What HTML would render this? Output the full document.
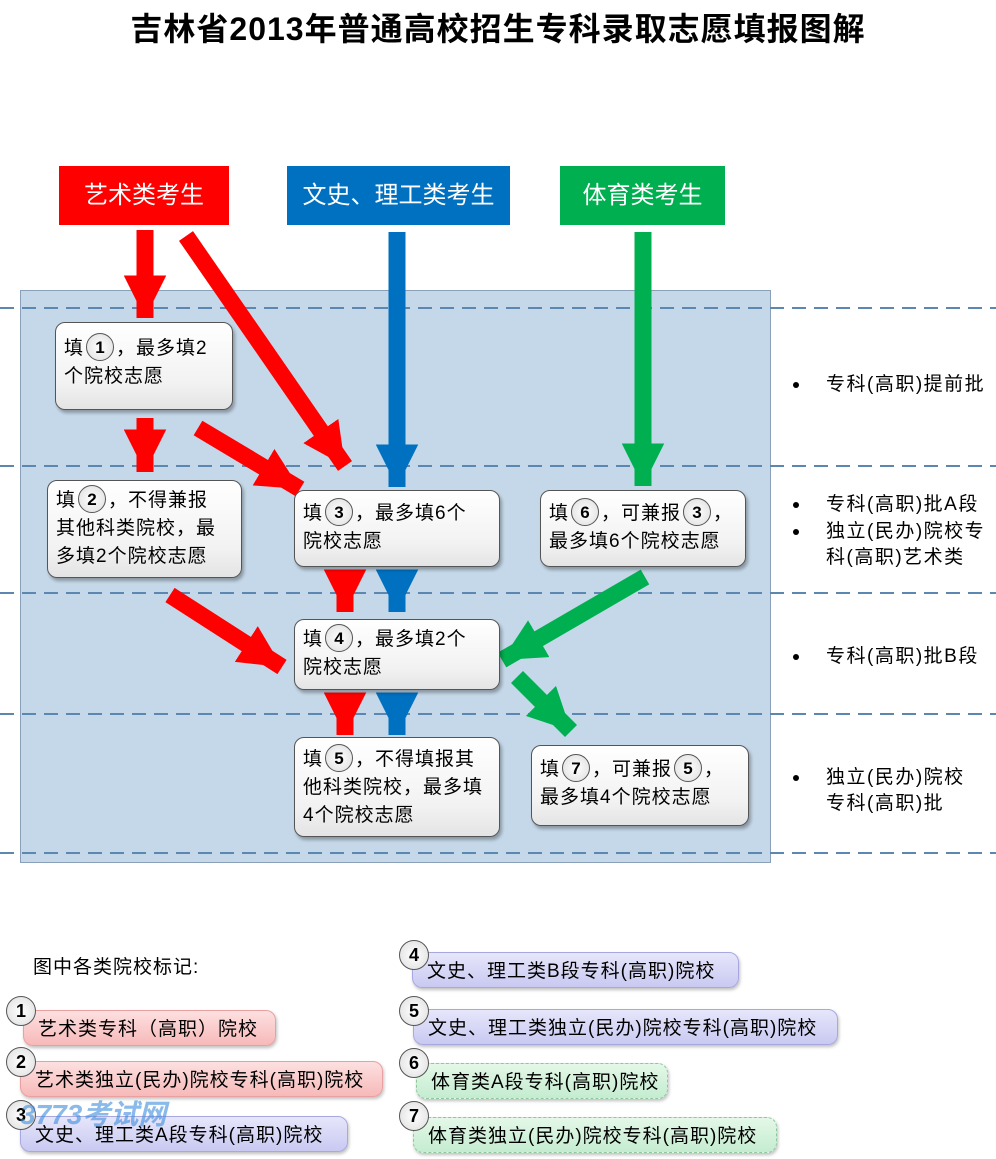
<!DOCTYPE html>
<html><head><meta charset="utf-8"><style>
body{margin:0;width:996px;height:1159px;background:#fff;position:relative;overflow:hidden;font-family:"Liberation Sans","Noto Sans CJK SC",sans-serif;}
.a{position:absolute;}
.title{left:0;width:996px;top:4px;text-align:center;font-size:32px;letter-spacing:1px;font-weight:bold;color:#000;}
.hd{position:absolute;color:#fff;font-size:24px;text-align:center;line-height:59px;height:59px;}
.bx{position:absolute;background:linear-gradient(#ffffff,#f2f2f2 70%,#e4e4e4);border:1px solid #555;border-radius:10px;box-shadow:2px 3px 3px rgba(0,0,0,.3);font-size:19px;letter-spacing:1px;line-height:28px;padding:12px 6px 0 8px;box-sizing:border-box;color:#000;white-space:nowrap;}
.c{display:inline-block;width:28px;height:28px;border-radius:50%;border:1px solid #555;background:radial-gradient(#fff,#ddd);text-align:center;line-height:28px;font-weight:bold;font-size:17px;letter-spacing:0;vertical-align:middle;margin:-4px 2px 0 2px;box-sizing:border-box;}
.rl{position:absolute;font-size:19px;letter-spacing:1.5px;line-height:26px;color:#000;}
.rl:before{content:"";position:absolute;left:-33px;top:10px;width:6px;height:6px;border-radius:50%;background:#000;}
.pill{position:absolute;height:36px;border-radius:10px;font-size:19px;letter-spacing:1px;line-height:38px;padding-left:14px;box-sizing:border-box;box-shadow:1px 2px 3px rgba(0,0,0,.25);white-space:nowrap;}
.pr{background:linear-gradient(#fde0e0,#f7b9b9);border:1px solid #e9a0a0;}
.pb{background:linear-gradient(#e6e6fb,#c9c9f2);border:1px solid #a8a8e0;}
.pg{background:linear-gradient(#e4f8e8,#c4ecd0);border:1px dashed #8fc79c;}
.lc{position:absolute;width:30px;height:30px;border-radius:50%;border:1px solid #555;background:radial-gradient(#fff,#ddd);text-align:center;line-height:28px;font-weight:bold;font-size:18px;box-sizing:border-box;}
</style></head><body>
<div class="a title">吉林省2013年普通高校招生专科录取志愿填报图解</div>
<div class="a" style="left:20px;top:290px;width:751px;height:573px;background:#c5d8e9;border:1px solid #8aa0b8;box-sizing:border-box;"></div>
<svg class="a" style="left:0;top:0" width="996" height="1159">
<defs>
<marker id="mr" viewBox="0 0 10 10" refX="10" refY="5" markerWidth="2.5" markerHeight="2.5" orient="auto"><path d="M0,0L10,5L0,10z" fill="#ff0000"/></marker>
<marker id="mb" viewBox="0 0 10 10" refX="10" refY="5" markerWidth="2.5" markerHeight="2.5" orient="auto"><path d="M0,0L10,5L0,10z" fill="#0070c0"/></marker>
<marker id="mg" viewBox="0 0 10 10" refX="10" refY="5" markerWidth="2.5" markerHeight="2.5" orient="auto"><path d="M0,0L10,5L0,10z" fill="#00b050"/></marker>
</defs>
<g stroke="#5b87b0" stroke-width="2" stroke-dasharray="14,8">
<line x1="0" y1="308" x2="996" y2="308"/><line x1="0" y1="466" x2="996" y2="466"/><line x1="0" y1="593" x2="996" y2="593"/><line x1="0" y1="714" x2="996" y2="714"/><line x1="0" y1="853" x2="996" y2="853"/>
</g>
<g stroke-width="17" fill="none">
<line x1="145" y1="230" x2="145" y2="318" stroke="#ff0000" marker-end="url(#mr)"/>
<line x1="186" y1="236" x2="345" y2="466" stroke="#ff0000" marker-end="url(#mr)"/>
<line x1="397" y1="232" x2="397" y2="487" stroke="#0070c0" marker-end="url(#mb)"/>
<line x1="643" y1="232" x2="643" y2="486" stroke="#00b050" marker-end="url(#mg)"/>
<line x1="145" y1="418" x2="145" y2="472" stroke="#ff0000" marker-end="url(#mr)"/>
<line x1="198" y1="428" x2="300" y2="489" stroke="#ff0000" marker-end="url(#mr)"/>
<line x1="345" y1="572" x2="345" y2="612" stroke="#ff0000" marker-end="url(#mr)"/>
<line x1="397" y1="572" x2="397" y2="612" stroke="#0070c0" marker-end="url(#mb)"/>
<line x1="170" y1="595" x2="282" y2="667" stroke="#ff0000" marker-end="url(#mr)"/>
<line x1="645" y1="577" x2="502" y2="660" stroke="#00b050" marker-end="url(#mg)"/>
<line x1="345" y1="694" x2="345" y2="735" stroke="#ff0000" marker-end="url(#mr)"/>
<line x1="397" y1="694" x2="397" y2="735" stroke="#0070c0" marker-end="url(#mb)"/>
<line x1="517" y1="677" x2="571" y2="731" stroke="#00b050" marker-end="url(#mg)"/>
</g>
</svg>
<div class="hd" style="left:59px;top:166px;width:170px;background:#ff0000;">艺术类考生</div>
<div class="hd" style="left:287px;top:166px;width:223px;background:#0070c0;">文史、理工类考生</div>
<div class="hd" style="left:560px;top:166px;width:165px;background:#00b050;">体育类考生</div>

<div class="bx" style="left:55px;top:322px;width:178px;height:88px;">填<span class="c">1</span>，最多填2<br>个院校志愿</div>
<div class="bx" style="left:47px;top:480px;width:195px;height:98px;padding-top:6px;">填<span class="c">2</span>，不得兼报<br>其他科类院校，最<br>多填2个院校志愿</div>
<div class="bx" style="left:294px;top:490px;width:206px;height:77px;padding-top:9px;">填<span class="c">3</span>，最多填6个<br>院校志愿</div>
<div class="bx" style="left:540px;top:490px;width:206px;height:77px;padding-top:9px;">填<span class="c">6</span>，可兼报<span class="c">3</span>，<br>最多填6个院校志愿</div>
<div class="bx" style="left:294px;top:619px;width:206px;height:71px;padding-top:6px;">填<span class="c">4</span>，最多填2个<br>院校志愿</div>
<div class="bx" style="left:294px;top:737px;width:206px;height:100px;padding-top:8px;">填<span class="c">5</span>，不得填报其<br>他科类院校，最多填<br>4个院校志愿</div>
<div class="bx" style="left:531px;top:745px;width:218px;height:81px;padding-top:10px;">填<span class="c">7</span>，可兼报<span class="c">5</span>，<br>最多填4个院校志愿</div>

<div class="rl" style="left:826px;top:372px;">专科(高职)提前批</div>
<div class="rl" style="left:826px;top:492px;">专科(高职)批A段</div>
<div class="rl" style="left:826px;top:519px;width:170px;">独立(民办)院校专<br>科(高职)艺术类</div>
<div class="rl" style="left:826px;top:644px;">专科(高职)批B段</div>
<div class="rl" style="left:826px;top:765px;">独立(民办)院校<br>专科(高职)批</div>

<div class="a" style="left:33px;top:952px;font-size:19px;letter-spacing:1px;">图中各类院校标记:</div>
<div class="pill pr" style="left:23px;top:1010px;width:253px;">艺术类专科（高职）院校</div>
<div class="pill pr" style="left:20px;top:1061px;width:363px;">艺术类独立(民办)院校专科(高职)院校</div>
<div class="pill pb" style="left:20px;top:1116px;width:328px;">文史、理工类A段专科(高职)院校</div>
<div class="pill pb" style="left:412px;top:952px;width:327px;">文史、理工类B段专科(高职)院校</div>
<div class="pill pb" style="left:413px;top:1009px;width:425px;">文史、理工类独立(民办)院校专科(高职)院校</div>
<div class="pill pg" style="left:416px;top:1063px;width:252px;">体育类A段专科(高职)院校</div>
<div class="pill pg" style="left:413px;top:1117px;width:364px;">体育类独立(民办)院校专科(高职)院校</div>
<div class="lc" style="left:6px;top:996px;">1</div>
<div class="lc" style="left:6px;top:1047px;">2</div>
<div class="lc" style="left:6px;top:1100px;">3</div>
<div class="lc" style="left:399px;top:940px;">4</div>
<div class="lc" style="left:399px;top:996px;">5</div>
<div class="lc" style="left:399px;top:1048px;">6</div>
<div class="lc" style="left:399px;top:1101px;">7</div>
<div class="a" style="left:20px;top:1093px;font-size:28px;font-style:italic;font-weight:bold;color:rgba(60,140,220,.6);">3773考试网</div>
</body></html>
